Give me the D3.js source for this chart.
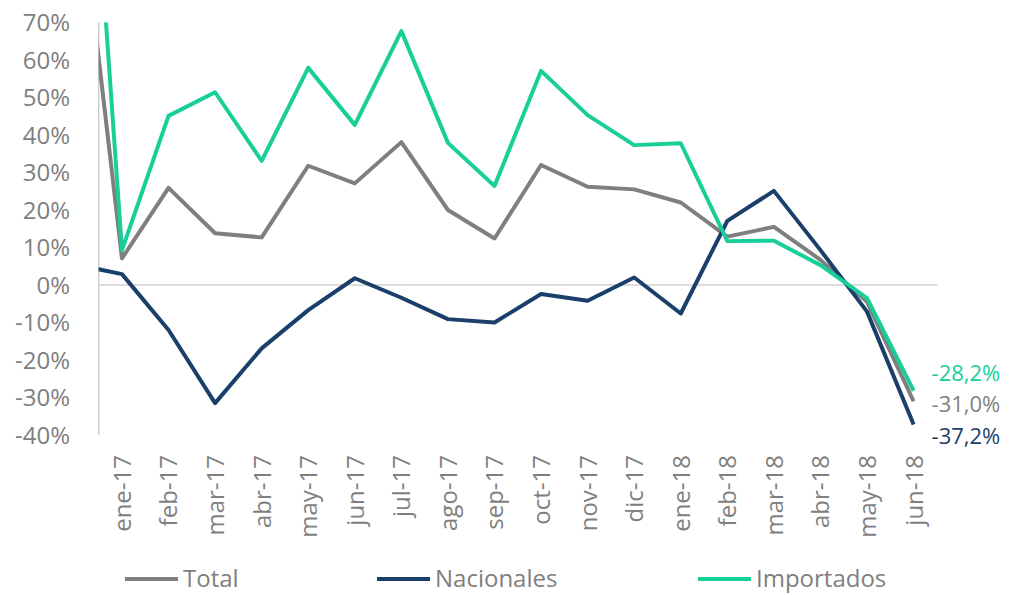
<!DOCTYPE html>
<html>
<head>
<meta charset="utf-8">
<script src="https://cdn.jsdelivr.net/npm/d3@7"></script>
<style>
  body { margin: 0; background: #fff; }
  text { font-family: "Open Sans", "Noto Sans", sans-serif; }
</style>
</head>
<body>
<svg id="chart" width="1015" height="595"></svg>
<script>
// data (dic-16 sits before the visible axis and is clipped, as in the original)
const months = ['dic-16', 'ene-17', 'feb-17', 'mar-17', 'abr-17', 'may-17', 'jun-17', 'jul-17', 'ago-17',
    'sep-17', 'oct-17', 'nov-17', 'dic-17', 'ene-18', 'feb-18', 'mar-18', 'abr-18', 'may-18', 'jun-18'];
const total = [114, 7.1, 25.9, 13.8, 12.7, 31.8, 27.1, 38.1, 20.0, 12.4, 32.0, 26.2, 25.5, 22.0, 12.9, 15.5, 6.7, -4.5, -31.0];
const nacionales = [5.5, 2.9, -12.0, -31.5, -16.9, -6.7, 1.8, -3.4, -9.1, -10.0, -2.4, -4.2, 2.0, -7.6, 17.1, 25.1, 9.3, -7.1, -37.2];
const importados = [186, 9.3, 45.1, 51.4, 33.1, 57.9, 42.7, 67.7, 37.9, 26.4, 57.1, 45.3, 37.3, 37.8, 11.7, 11.8, 5.3, -3.5, -28.2];
const yTicks = [70, 60, 50, 40, 30, 20, 10, 0, -10, -20, -30, -40];

const series = [
    { name: 'Total', values: total, color: '#7f7f7f', labelShift: 3.5 },
    { name: 'Nacionales', values: nacionales, color: '#1b3f6b', labelShift: 11.5 },
    { name: 'Importados', values: importados, color: '#19cf99', labelShift: -17 },
];

const svg = d3.select('#chart');
const axisColor = '#7f7f7f';
const plotLeft = 98.7, plotRight = 937.5;

const x = d3.scalePoint().domain(months).range([75.4, 913.6]);
const y = d3.scaleLinear().domain([-40, 70]).range([435, 22.5]);

svg.append('defs').append('clipPath').attr('id', 'plotclip')
    .append('rect')
    .attr('x', plotLeft).attr('y', y(70))
    .attr('width', plotRight - plotLeft).attr('height', y(-40) - y(70));

// y axis labels
const yAxis = d3.axisLeft(y).tickValues(yTicks).tickSize(0).tickPadding(0)
    .tickFormat(d => d + '%');
const yAxisG = svg.append('g').attr('transform', 'translate(70,0)').call(yAxis);
yAxisG.select('.domain').remove();
yAxisG.selectAll('text')
    .attr('fill', axisColor)
    .style('font-size', '24px')
    .attr('dy', '0.35em');

// axis line + zero line
svg.append('line')
    .attr('x1', plotLeft).attr('x2', plotLeft)
    .attr('y1', y(70)).attr('y2', y(-40))
    .attr('stroke', '#c8c8c8').attr('stroke-width', 1.3);
svg.append('line')
    .attr('x1', plotLeft).attr('x2', plotRight)
    .attr('y1', y(0)).attr('y2', y(0))
    .attr('stroke', '#d0d0d0').attr('stroke-width', 1.5);

// x labels
const xAxis = d3.axisBottom(x).tickValues(months.slice(1)).tickSize(0).tickPadding(0);
const xAxisG = svg.append('g').attr('transform', 'translate(0,455)').call(xAxis);
xAxisG.select('.domain').remove();
xAxisG.selectAll('text')
    .attr('fill', axisColor)
    .style('font-size', '24px')
    .attr('text-anchor', 'end')
    .attr('transform', 'rotate(-90)')
    .attr('x', 0).attr('y', 0)
    .attr('dx', 0).attr('dy', '0.35em');

// lines
const lineGenerator = d3.line()
    .x((d, i) => x(months[i]))
    .y(d => y(d));
const linesG = svg.append('g').attr('clip-path', 'url(#plotclip)');
series.forEach(s => {
    linesG.append('path')
        .attr('d', lineGenerator(s.values))
        .attr('fill', 'none')
        .attr('stroke', s.color)
        .attr('stroke-width', 4)
        .attr('stroke-linejoin', 'round');
});

// end labels
series.forEach(s => {
    const last = s.values[s.values.length - 1];
    svg.append('text')
        .attr('x', x(months[months.length - 1]) + 18)
        .attr('y', y(last) + s.labelShift)
        .attr('dy', '0.35em')
        .attr('fill', s.color)
        .style('font-size', '22px')
        .text(last.toFixed(1).replace('.', ',') + '%');
});

// legend
const legendX = [125, 377, 698];
series.forEach((s, i) => {
    const g = svg.append('g').attr('transform', `translate(${legendX[i]},579)`);
    g.append('line').attr('x1', 0).attr('x2', 53).attr('y1', 0).attr('y2', 0)
        .attr('stroke', s.color).attr('stroke-width', 4);
    g.append('text').attr('x', 58).attr('dy', '0.35em')
        .attr('fill', axisColor).style('font-size', '24px')
        .text(s.name);
});
</script>
</body>
</html>
